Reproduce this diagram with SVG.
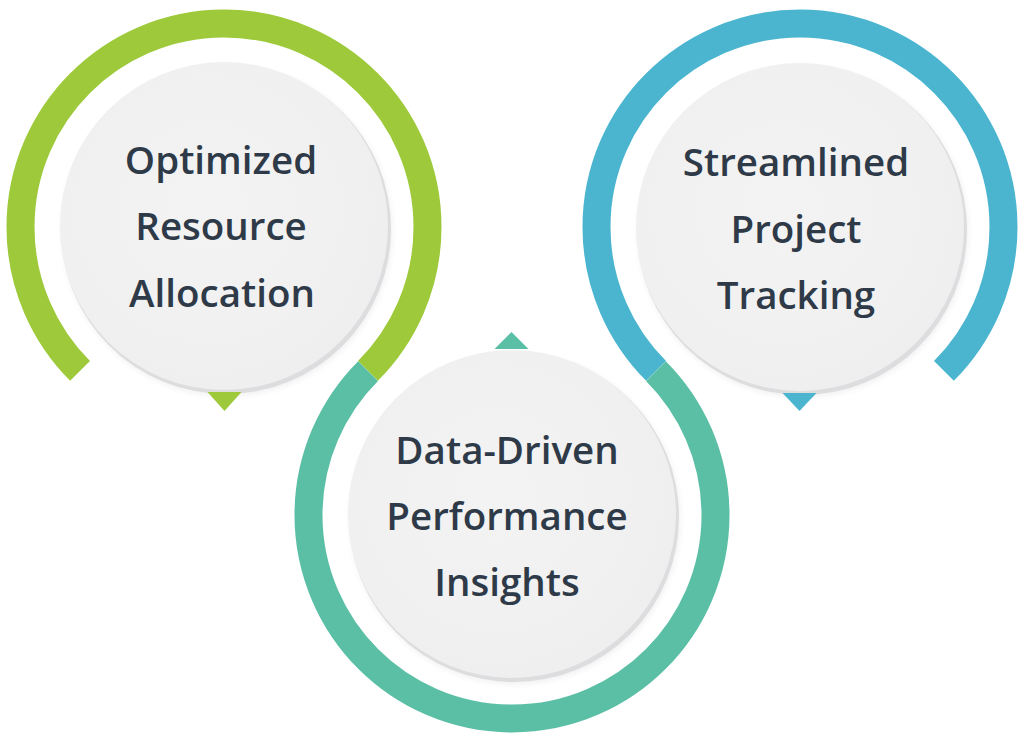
<svg xmlns="http://www.w3.org/2000/svg" width="1024" height="737" viewBox="0 0 1024 737">
  <defs>
    <radialGradient id="disc" cx="0.45" cy="0.45" r="0.6">
      <stop offset="0" stop-color="#f3f3f3"/>
      <stop offset="0.8" stop-color="#f0f0f1"/>
      <stop offset="1" stop-color="#eeeeef"/>
    </radialGradient>
    <filter id="soft" x="-20%" y="-20%" width="140%" height="140%">
      <feGaussianBlur stdDeviation="3"/>
    </filter>
  </defs>
  <style>
    .ring { fill: none; stroke-width: 28; stroke-linecap: butt; }
    .edge { fill: #dddddf; }
    .shadow { fill: #000; opacity: 0.06; filter: url(#soft); }
    .face { fill: url(#disc); }
    .label { font-family: "Open Sans", "Noto Sans", "Liberation Sans", sans-serif; font-weight: 600; font-size: 38.5px; fill: #2e3a48; text-anchor: middle; }
  </style>
  <rect width="1024" height="737" fill="#ffffff"/>

  <g id="node-optimized">
    <circle class="shadow" cx="227" cy="231" r="165"/>
    <circle class="edge" cx="226" cy="229" r="165"/>
    <circle class="face" cx="224" cy="226" r="164"/>
    <text class="label" x="221" y="174">Optimized</text>
    <text class="label" x="221" y="240">Resource</text>
    <text class="label" x="222" y="307">Allocation</text>
  </g>

  <g id="node-streamlined">
    <circle class="shadow" cx="803" cy="232" r="165"/>
    <circle class="edge" cx="802" cy="230" r="165"/>
    <circle class="face" cx="800" cy="227" r="164"/>
    <text class="label" x="796" y="176">Streamlined</text>
    <text class="label" x="796" y="243">Project</text>
    <text class="label" x="796" y="309">Tracking</text>
  </g>

  <g id="node-datadriven">
    <circle class="shadow" cx="515" cy="519" r="165"/>
    <circle class="edge" cx="514" cy="517" r="165"/>
    <circle class="face" cx="512" cy="514" r="164"/>
    <text class="label" x="507" y="464">Data-Driven</text>
    <text class="label" x="507" y="530">Performance</text>
    <text class="label" x="507" y="596">Insights</text>
  </g>

  <g id="connectors">
    <path class="ring" stroke="#9dc93a" d="M 80.1 370.9 A 203.5 203.5 0 1 1 367.9 370.9"/>
    <path class="ring" stroke="#4bb5d0" d="M 656.1 370.9 A 203.5 203.5 0 1 1 943.9 370.9"/>
    <path class="ring" stroke="#5bbfa6" d="M 655.9 371.1 A 203.5 203.5 0 1 1 368.1 371.1"/>
    <polygon fill="#9dc93a" points="207.5,392 241.5,392 224.5,411"/>
    <polygon fill="#4bb5d0" points="782.5,393 816.5,393 799.5,411"/>
    <polygon fill="#5bbfa6" points="494.5,349 528.5,349 511.5,332"/>
  </g>
</svg>
